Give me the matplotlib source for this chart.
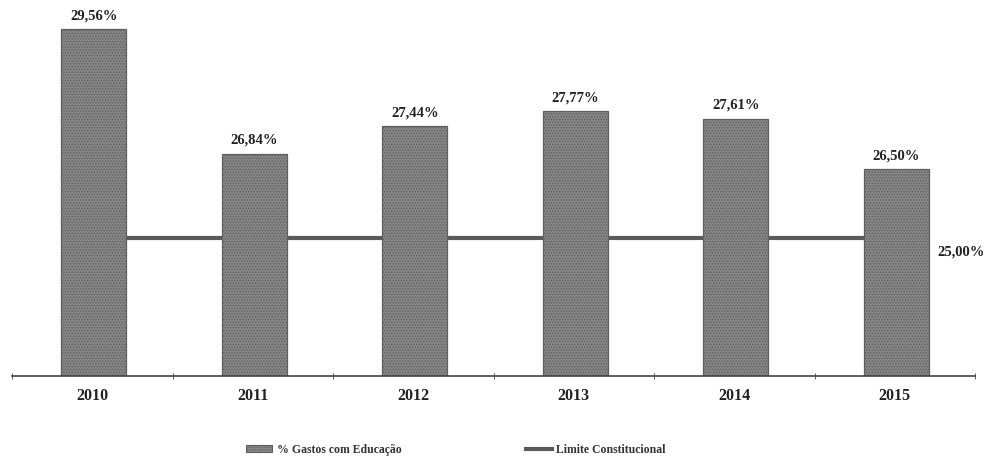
import matplotlib
matplotlib.use("Agg")
import matplotlib.pyplot as plt
from matplotlib.patches import Patch
from matplotlib.lines import Line2D

# Data
anos = ["2010", "2011", "2012", "2013", "2014", "2015"]
gastos_educacao = [29.56, 26.84, 27.44, 27.77, 27.61, 26.50]
limite_constitucional = [25.00, 25.00, 25.00, 25.00, 25.00, 25.00]

def fmt(v):
    return f"{v:.2f}".replace(".", ",") + "%"

plt.rcParams["font.family"] = ["Liberation Serif", "DejaVu Serif"]
plt.rcParams["font.weight"] = "bold"
plt.rcParams["hatch.linewidth"] = 0.6

fig = plt.figure(figsize=(9.91, 4.57), dpi=100)
ax = fig.add_axes([12 / 991, (457 - 376) / 457, 963 / 991, (376 - 8.8) / 457])

x = list(range(len(anos)))
bar_color = "#858585"
edge_color = "#5f5f5f"
line_color = "#5a5a5a"

ax.plot(x, limite_constitucional, color=line_color, lw=3.0, zorder=1, solid_capstyle="butt")
bars = ax.bar([i + 0.01 for i in x], gastos_educacao, width=0.405, color=bar_color,
              edgecolor=edge_color, hatch="......", linewidth=0.9, zorder=2)

ax.bar_label(bars, labels=[fmt(v) for v in gastos_educacao], padding=5,
             fontsize=10.5, fontweight="bold", color="#222222")

ax.annotate(fmt(limite_constitucional[-1]), xy=(x[-1], limite_constitucional[-1]),
            xytext=(31, -10), textcoords="offset points", ha="left", va="center",
            fontsize=10.5, fontweight="bold", color="#222222")

ax.set_xlim(-0.5, len(anos) - 0.5)
ax.set_ylim(22.0, 30.0)

for s in ["top", "right", "left"]:
    ax.spines[s].set_visible(False)
ax.spines["bottom"].set_color("#444444")
ax.spines["bottom"].set_linewidth(1.2)
ax.set_yticks([])
ax.set_xticks(x)
ax.set_xticklabels(anos, fontsize=11.5, fontweight="bold", color="#222222")
ax.tick_params(axis="x", which="major", length=0, pad=9)
ax.set_xticks([i - 0.5 for i in range(len(anos) + 1)], minor=True)
ax.tick_params(axis="x", which="minor", length=4, direction="inout", color="#444444")

handles = [
    Patch(facecolor=bar_color, edgecolor=edge_color, hatch="......", linewidth=0.8),
    Line2D([0], [0], color=line_color, lw=3.0),
]
fig.legend(handles, ["% Gastos com Educação", "Limite Constitucional"],
           loc="center", bbox_to_anchor=(456 / 991, 1 - 450 / 457), ncol=2,
           frameon=False, columnspacing=10.5, handlelength=2.2,
           handleheight=0.5, handletextpad=0.4,
           prop={"weight": "bold", "size": 8.5})
for t in fig.legends[0].get_texts():
    t.set_color("#333333")

fig.savefig("out.png", dpi=100)
